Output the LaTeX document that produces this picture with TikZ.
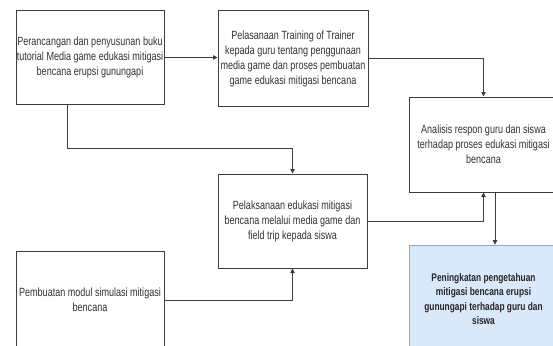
\documentclass[tikz,border=0pt]{standalone}
\usepackage{fontspec}
\setmainfont[FakeStretch=0.76]{Liberation Sans}
\usetikzlibrary{arrows.meta}
\definecolor{edge}{HTML}{3C3C3C}
\definecolor{bluefill}{HTML}{DAE8FC}
\definecolor{blueedge}{HTML}{8FA6C4}
\tikzset{
  boxstyle/.style={draw=edge, line width=1pt, fill=white, inner sep=0pt, align=center,
    font=\fontsize{11.9}{15}\selectfont, text=black!80},
  resultbox/.style={draw=blueedge, line width=0.8pt, fill=bluefill, inner sep=0pt, align=center,
    font=\fontsize{11}{14.2}\selectfont\bfseries, text=black!85},
  link/.style={draw=edge, line width=0.9pt, -{Triangle[length=4.5pt,width=4.5pt]}}
}
\begin{document}
\begin{tikzpicture}[x=1pt,y=-1pt]
\useasboundingbox (0,0) rectangle (553,345);
\node[boxstyle, minimum width=148, minimum height=93] (A) at (90,57.5)
  {Perancangan dan penyusunan buku\\tutorial Media game edukasi mitigasi\\bencana erupsi gunungapi};
\node[boxstyle, minimum width=150, minimum height=95] (B) at (293,58.5)
  {Pelasanaan Training of Trainer\\kepada guru tentang penggunaan\\media game dan proses pembuatan\\game edukasi mitigasi bencana};
\node[boxstyle, minimum width=149, minimum height=95] (C) at (483.5,144.5)
  {Analisis respon guru dan siswa\\terhadap proses edukasi mitigasi\\bencana};
\node[boxstyle, minimum width=149, minimum height=94] (D) at (292.5,221)
  {Pelaksanaan edukasi mitigasi\\bencana melalui media game dan\\field trip kepada siswa};
\node[boxstyle, minimum width=148, minimum height=98] (E) at (90,300)
  {Pembuatan modul simulasi mitigasi\\bencana};
\node[resultbox, minimum width=149, minimum height=108] (F) at (483.5,299)
  {Peningkatan pengetahuan\\mitigasi bencana erupsi\\gunungapi terhadap guru dan\\siswa};
\coordinate (Aout) at ([xshift=-23]A.south);
\coordinate (Cout) at ([xshift=11.5]C.south);
\draw[link] (A.east) -- (A.east -| B.west);
\draw[link] (B.east) -| (C.north);
\draw[link] (Aout) -- ++(0,44) -| (D.north);
\draw[link] (E.east) -| (D.south);
\draw[link] (D.east) -| (C.south);
\draw[link] (Cout) -- (Cout |- F.north);
\end{tikzpicture}
\end{document}
